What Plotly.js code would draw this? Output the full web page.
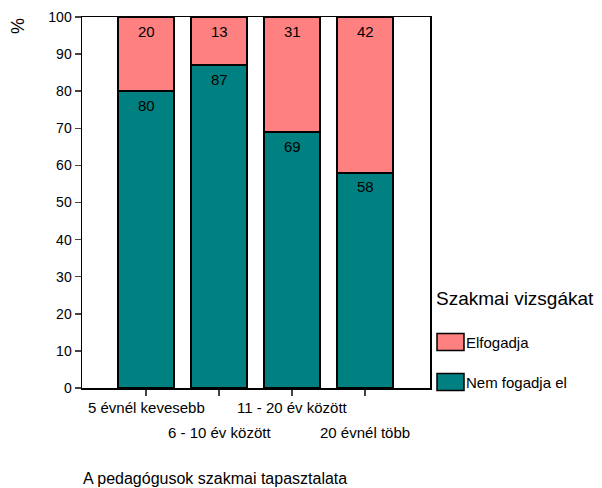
<!DOCTYPE html>
<html><head><meta charset="utf-8">
<script src="https://cdn.plot.ly/plotly-3.0.1.min.js"></script>
<style>body{margin:0;background:#fff}</style>
</head><body><div id="chart" style="width:602px;height:488px"></div>
<script>
const categories = ["5 évnél kevesebb", "6 - 10 év között", "11 - 20 év között", "20 évnél több"];
const nemFogadja = [80, 87, 69, 58];
const elfogadja = [20, 13, 31, 42];
const seriesNames = ["Nem fogadja el", "Elfogadja"];
const yTicks = [0,10,20,30,40,50,60,70,80,90,100];
const legendTitle = "Szakmai vizsgákat";
const xTitle = "A pedagógusok szakmai tapasztalata";

const idx = categories.map((c,i)=>i);
const FF = "Liberation Sans, Arial, sans-serif";
const font = {family: FF, color: "#000"};
const common = {type:'bar', x: idx, width: 0.77, hoverinfo:'skip', showlegend:false};
const traces = [
  Object.assign({}, common, {y: nemFogadja, name: seriesNames[0],
    marker:{color:'#008080', line:{color:'#000', width:1.5}}}),
  Object.assign({}, common, {y: elfogadja, name: seriesNames[1],
    marker:{color:'#FF8080', line:{color:'#000', width:1.5}}})
];

const annotations = [];
idx.forEach(i=>{
  annotations.push({x:i, y:nemFogadja[i], xref:'x', yref:'y', text:String(nemFogadja[i]), showarrow:false,
    yanchor:'middle', yshift:-14, font:{family:FF, size:15, color:'#000'}});
  annotations.push({x:i, y:nemFogadja[i]+elfogadja[i], xref:'x', yref:'y', text:String(elfogadja[i]), showarrow:false,
    yanchor:'middle', yshift:-14, font:{family:FF, size:15, color:'#000'}});
});
categories.forEach((c,i)=>annotations.push({
  x: i, y: 0, xref:'x', yref:'paper', text: c, showarrow:false,
  yanchor:'middle', xanchor:'center', yshift: (i%2===0) ? -19 : -44,
  font:{family:FF, size:15, color:'#000'}
}));
annotations.push({x:0, y:1.0, xref:'paper', yref:'paper', xanchor:'center', yanchor:'middle',
  text:'%', textangle:-90, showarrow:false, xshift:-64, yshift:-9, font:{family:FF, size:18, color:'#000'}});
annotations.push({x:0, y:0, xref:'paper', yref:'paper', xanchor:'left', yanchor:'middle', yshift:-90, xshift:-1,
  text:xTitle, showarrow:false, font:{family:FF, size:16, color:'#000'}});
annotations.push({x:1, y:0, xref:'paper', yref:'paper', xanchor:'left', yanchor:'middle', xshift:4, yshift:90,
  text:legendTitle, showarrow:false, font:{family:FF, size:19, color:'#000'}});
const legendItems = [{name: seriesNames[1], color:'#FF8080', dy:46}, {name: seriesNames[0], color:'#008080', dy:6}];
legendItems.forEach(it=>{
  annotations.push({x:1, y:0, xref:'paper', yref:'paper', xanchor:'left', yanchor:'middle', xshift:34, yshift:it.dy,
    text:it.name, showarrow:false, font:{family:FF, size:15, color:'#000'}});
});

const layout = {
  width:602, height:488, margin:{l:82, r:172, t:17, b:100},
  paper_bgcolor:'#fff', plot_bgcolor:'#fff', barmode:'stack', bargap:0,
  font: font,
  xaxis:{range:[-0.877, 3.89], tickvals: idx, showticklabels:false, ticks:'outside', ticklen:6, tickwidth:1.5,
    showline:true, linewidth:1.5, linecolor:'#000', mirror:true, showgrid:false, zeroline:false, fixedrange:true},
  yaxis:{range:[0,100], tickvals:yTicks, ticks:'outside', ticklen:6, tickwidth:1.5,
    showline:true, linewidth:1.5, linecolor:'#000', mirror:true, showgrid:false, zeroline:false,
    tickfont:{family:FF, size:14, color:'#000'}},
  annotations: annotations
};
Plotly.newPlot('chart', traces, layout, {displayModeBar:false, staticPlot:true}).then(gd=>{
  const s = gd._fullLayout._size;
  const boxes = legendItems.map(it=>({type:'rect', xref:'paper', yref:'paper',
    x0: (s.w + 7)/s.w, x1: (s.w + 34)/s.w,
    y0: (it.dy - 8.5)/s.h, y1: (it.dy + 8.5)/s.h,
    fillcolor: it.color, line:{color:'#000', width:1.5}}));
  Plotly.relayout(gd, {shapes: boxes});
});
</script></body></html>
